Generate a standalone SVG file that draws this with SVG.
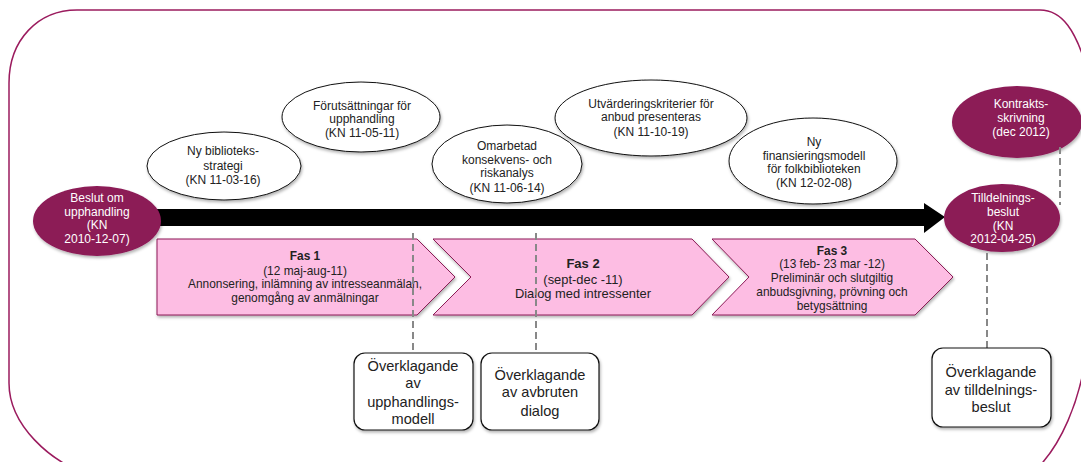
<svg xmlns="http://www.w3.org/2000/svg" width="1081" height="462" viewBox="0 0 1081 462">
<defs>
<filter id="sh" x="-10%" y="-10%" width="130%" height="140%">
<feDropShadow dx="1" dy="2" stdDeviation="1.5" flood-color="#000" flood-opacity="0.3"/>
</filter>
<style>
text{font-family:"Liberation Sans",Arial,sans-serif;text-anchor:middle}
.wt{fill:#fff;font-size:12px}
.bt{fill:#222;font-size:12px}
.ph{fill:#222;font-size:11.9px}
.bx{fill:#222;font-size:14.6px}
.dark{fill:#8C1A57;filter:url(#sh)}
.light{fill:#fff;stroke:#111;stroke-width:1;filter:url(#sh)}
.chev{fill:#FDBDE3;stroke:#8C1A57;stroke-width:1;filter:url(#sh)}
.box{fill:#fff;stroke:#111;stroke-width:1.2;filter:url(#sh)}
.dash{stroke:#888;stroke-width:2;stroke-dasharray:7 4;fill:none}
</style>
</defs>
<rect width="1081" height="462" fill="#fff"/>
<path d="M9,83 C9,40 38,10 77,10 L1040,10 C1062,10 1076,30 1088,72 L1088,340 C1082,400 1060,450 1030,475 L90,475 C50,462 9,425 9,383 Z" fill="none" stroke="#9B1B5E" stroke-width="1.5"/>

<g id="timeline-arrow">
<polygon points="120,209 924,209 924,203 945,217 924,233 924,226 120,226" fill="#000"/>
</g>

<g id="phase1">
<polygon class="chev" points="157,239 417,239 455,277 417,315 157,315"/>
<text class="ph" x="305" y="260" font-weight="bold">Fas 1</text>
<text class="ph" x="305" y="275">(12 maj-aug-11)</text>
<text class="ph" x="305" y="288">Annonsering, inlämning av intresseanmälan,</text>
<text class="ph" x="305" y="302">genomgång av anmälningar</text>
</g>
<g id="phase2">
<polygon class="chev" points="433,239 692,239 729,277 692,315 433,315 471,277"/>
<text class="bt" x="583" y="268" font-weight="bold" style="font-size:13px">Fas 2</text>
<text class="bt" x="583" y="284" style="font-size:12.9px">(sept-dec -11)</text>
<text class="bt" x="583" y="298" style="font-size:12.9px">Dialog med intressenter</text>
</g>
<g id="phase3">
<polygon class="chev" points="712,239 915,239 953,277 915,315 712,315 749,277"/>
<text class="ph" x="832" y="255" font-weight="bold">Fas 3</text>
<text class="ph" x="832" y="268">(13 feb- 23 mar -12)</text>
<text class="ph" x="832" y="282">Preliminär och slutgiltig</text>
<text class="ph" x="832" y="296">anbudsgivning, prövning och</text>
<text class="ph" x="832" y="310">betygsättning</text>
</g>

<g id="beslut">
<ellipse class="dark" cx="97" cy="221" rx="64" ry="35"/>
<text class="wt" x="97" y="202">Beslut om</text>
<text class="wt" x="97" y="216">upphandling</text>
<text class="wt" x="97" y="229">(KN</text>
<text class="wt" x="97" y="243">2010-12-07)</text>
</g>

<g id="strategi">
<ellipse class="light" cx="224" cy="166" rx="77" ry="34"/>
<text class="bt" x="223" y="155">Ny biblioteks-</text>
<text class="bt" x="223" y="170">strategi</text>
<text class="bt" x="223" y="184">(KN 11-03-16)</text>
</g>
<g id="forutsattningar">
<ellipse class="light" cx="361" cy="117" rx="79" ry="35"/>
<text class="bt" x="362" y="110">Förutsättningar för</text>
<text class="bt" x="362" y="123">upphandling</text>
<text class="bt" x="362" y="137">(KN 11-05-11)</text>
</g>
<g id="omarbetad">
<ellipse class="light" cx="507" cy="164" rx="75" ry="39"/>
<text class="bt" x="507" y="150">Omarbetad</text>
<text class="bt" x="507" y="164">konsekvens- och</text>
<text class="bt" x="507" y="177">riskanalys</text>
<text class="bt" x="507" y="192">(KN 11-06-14)</text>
</g>
<g id="utvardering">
<ellipse class="light" cx="651" cy="118" rx="96" ry="38"/>
<text class="bt" x="651" y="108">Utvärderingskriterier för</text>
<text class="bt" x="651" y="121">anbud presenteras</text>
<text class="bt" x="651" y="136">(KN 11-10-19)</text>
</g>
<g id="finansiering">
<ellipse class="light" cx="813" cy="161" rx="84" ry="43"/>
<text class="bt" x="814" y="146">Ny</text>
<text class="bt" x="814" y="160">finansieringsmodell</text>
<text class="bt" x="814" y="173">för folkbiblioteken</text>
<text class="bt" x="814" y="187">(KN 12-02-08)</text>
</g>

<g id="kontrakt">
<ellipse class="dark" cx="1017" cy="122" rx="65" ry="36"/>
<text class="wt" x="1021" y="108">Kontrakts-</text>
<text class="wt" x="1021" y="122">skrivning</text>
<text class="wt" x="1021" y="136">(dec 2012)</text>
</g>
<g id="tilldelning">
<ellipse class="dark" cx="1002" cy="218" rx="58" ry="34"/>
<text class="wt" x="1003" y="202">Tilldelnings-</text>
<text class="wt" x="1003" y="216">beslut</text>
<text class="wt" x="1003" y="230">(KN</text>
<text class="wt" x="1003" y="243">2012-04-25)</text>
</g>

<g id="connectors">
<line class="dash" x1="413" y1="233" x2="413" y2="353"/>
<line class="dash" x1="536" y1="233" x2="536" y2="353"/>
<line class="dash" x1="987" y1="253" x2="987" y2="348"/>
<line class="dash" x1="1060" y1="147" x2="1060" y2="205"/>
</g>

<g id="overklag1">
<rect class="box" x="354" y="353" width="119" height="77" rx="11"/>
<text class="bx" x="413" y="371">Överklagande</text>
<text class="bx" x="413" y="388">av</text>
<text class="bx" x="413" y="407">upphandlings-</text>
<text class="bx" x="413" y="424">modell</text>
</g>
<g id="overklag2">
<rect class="box" x="481" y="353" width="118" height="77" rx="11"/>
<text class="bx" x="540" y="380">Överklagande</text>
<text class="bx" x="540" y="397">av avbruten</text>
<text class="bx" x="540" y="416">dialog</text>
</g>
<g id="overklag3">
<rect class="box" x="932" y="348" width="119" height="79" rx="11"/>
<text class="bx" x="991" y="377">Överklagande</text>
<text class="bx" x="991" y="395">av tilldelnings-</text>
<text class="bx" x="991" y="412">beslut</text>
</g>
</svg>
